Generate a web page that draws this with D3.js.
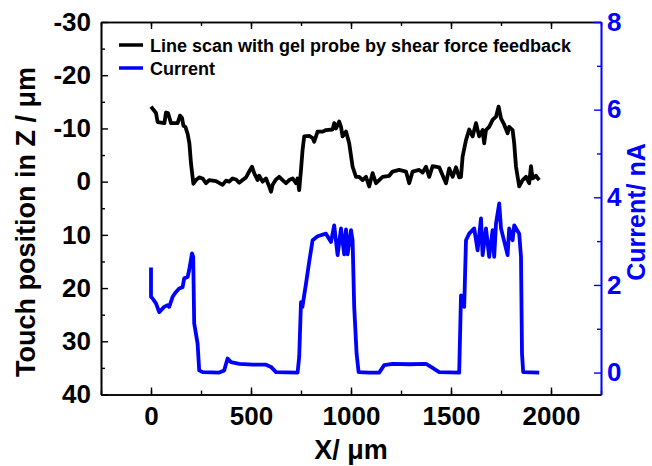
<!DOCTYPE html>
<html>
    <head>
        <meta charset="utf-8" />
        <script src="https://d3js.org/d3.v7.min.js"></script>
        <style>
            body { margin: 0; background: #fff; }
            text { font-family: 'Liberation Sans', Arial, sans-serif; font-weight: bold; }
        </style>
    </head>
    <body>
        <svg width="652" height="466"></svg>
        <script>
            // height profile (left axis, um)
            const zX = [0, 25, 33, 67, 75, 85, 100, 133, 145, 155, 162, 172, 183, 192, 200, 212,
                225, 241, 258, 275, 291, 325, 358, 375, 391, 408, 425, 441, 458, 475, 491, 505,
                516, 533, 541, 558, 575, 591, 600, 608, 625, 641, 658, 675, 691, 708, 725, 733,
                741, 750, 758, 766, 791, 808, 816, 833, 858, 875, 908, 916, 925, 941, 950, 958,
                975, 991, 1008, 1025, 1041, 1058, 1075, 1091, 1108, 1125, 1141, 1158, 1191, 1208,
                1241, 1275, 1291, 1308, 1341, 1358, 1375, 1391, 1408, 1441, 1475, 1491, 1508,
                1525, 1541, 1550, 1558, 1575, 1591, 1608, 1625, 1641, 1658, 1666, 1675, 1691,
                1708, 1725, 1738, 1750, 1766, 1783, 1791, 1808, 1816, 1825, 1841, 1858, 1875,
                1891, 1900, 1908, 1925, 1941]
            const zVal = [-14.1, -12.9, -11.2, -11, -13, -12.9, -11, -11, -12.4, -12, -10.5, -10.3, -9, -7.2, -3.4, 0.4,
                -0.3, -0.8, -0.6, 0.3, -0.3, -0.1, 0.6, -0.2, 0, -0.6, -0.4, 0.2, -0.3, -0.8, -1.9, -2.8,
                -1.6, -0.3, -1.1, 0, -0.6, 0.9, 1.9, 0.6, -0.4, -0.9, -0.3, 0.3, -0.3, -0.6, 0.3, -0.6,
                1.6, -2.2, -6, -8.5, -8.6, -8.2, -7.5, -9.4, -9.4, -9.7, -9.8, -11, -10, -11.3, -10.3, -8.5,
                -9.4, -7.2, -2.8, -0.9, -0.9, -0.3, -0.9, 0.9, -1.6, 0.3, -0.3, -0.9, -1.1, -1.9,
                -2.2, -1.9, 0.3, -1.9, -2.2, -1.7, -2.8, -0.9, -2.9, -2.7, 0.3, -2.5, -0.9,
                -2.7, -0.8, -0.9, -4.7, -7.8, -9.8, -8.5, -11, -8.5, -9.7, -7.2, -9.7, -10.3,
                -11.6, -12.2, -14.1, -11.9, -10.7, -9.1, -10.3, -9.7, -7.2, -2.8, 0.9, -0.3, -0.9,
                0.3, -2.9, -0.6, -1.1, -0.3]

            // probe current (right axis, nA)
            const iX = [0, 0, 8, 25, 41, 66, 83, 91, 108, 125, 141, 158, 166, 183, 191, 205, 211, 216,
                233, 241, 258, 341, 366, 383, 400, 441, 508, 575, 600, 625, 733, 741, 750, 757,
                775, 791, 808, 833, 875, 900, 916, 933, 950, 966, 975, 983, 1000, 1008, 1016,
                1028, 1038, 1091, 1141, 1166, 1208, 1291, 1375, 1400, 1441, 1541, 1550, 1566,
                1575, 1591, 1616, 1633, 1650, 1658, 1675, 1691, 1708, 1716, 1725, 1741, 1750,
                1783, 1791, 1808, 1816, 1841, 1850, 1855, 1861, 1941]
            const iVal = [2.4, 1.73, 1.69, 1.58, 1.38, 1.5, 1.54, 1.5, 1.73, 1.84, 1.92, 1.95, 2.15, 2.18, 2.34, 2.72, 2.64, 1.12,
                0.66, 0.05, 0.01, 0, 0.05, 0.32, 0.24, 0.2, 0.18, 0.18, 0.13, 0.01, 0, 0.36, 1.61, 1.5,
                2.03, 2.53, 3.02, 3.11, 3.17, 2.98, 3.36, 2.68, 3.29, 2.7, 3.27, 2.7, 3.25, 3.02, 1.5,
                0.43, 0.01, 0, 0, 0.17, 0.2, 0.19, 0.2, 0.13, 0.01, 0, 1.76, 1.5,
                3.02, 3.17, 3.29, 2.79, 3.52, 2.68, 3.29, 2.64, 3.25, 2.64, 3.4, 3.86, 3.29,
                2.68, 3.29, 3.02, 3.36, 3.17, 2.64, 0.43, 0.01, 0]

            const xTicks = [0, 500, 1000, 1500, 2000]
            const zTicks = [-30, -20, -10, 0, 10, 20, 30, 40]
            const iTicks = [0, 2, 4, 6, 8]
            const legendLabels = ['Line scan with gel probe by shear force feedback', 'Current']

            const svg = d3.select('svg')
            const pLeft = 101, pRight = 601, pTop = 22, pBottom = 394.5
            const blue = '#0000ff'
            const plain = (d) => String(d)

            const x = d3.scaleLinear().domain([-250, 2250]).range([pLeft, pRight])
            const yZ = d3.scaleLinear().domain([-30, 40]).range([pTop, pBottom])
            const yI = d3.scaleLinear().domain([-0.5, 8]).range([pBottom, pTop])

            function styleAxis(g, color) {
                g.select('.domain').attr('stroke', color).attr('stroke-width', 1.6)
                g.selectAll('.tick line').attr('stroke', color).attr('stroke-width', 1.4)
                g.selectAll('.tick text').attr('fill', color).style('font-size', '26px')
                    .style('font-family', "'Liberation Sans', Arial, sans-serif").style('font-weight', 'bold')
            }

            // minor ticks
            svg.append('g').attr('transform', `translate(0,${pBottom})`)
                .call(d3.axisBottom(x).tickValues(d3.range(-250, 2251, 250)).tickSizeInner(-4).tickSizeOuter(0).tickFormat(''))
                .call(styleAxis, '#000')
            svg.append('g').attr('transform', `translate(0,${pTop})`)
                .call(d3.axisTop(x).tickValues(d3.range(-250, 2251, 250)).tickSizeInner(-4).tickSizeOuter(0).tickFormat(''))
                .call(styleAxis, '#000')
            svg.append('g').attr('transform', `translate(${pLeft},0)`)
                .call(d3.axisLeft(yZ).tickValues(d3.range(-25, 40, 10)).tickSizeInner(-4).tickSizeOuter(0).tickFormat(''))
                .call(styleAxis, '#000')
            svg.append('g').attr('transform', `translate(${pRight},0)`)
                .call(d3.axisRight(yI).tickValues(d3.range(1, 8, 2)).tickSizeInner(-4).tickSizeOuter(0).tickFormat(''))
                .call(styleAxis, blue)

            // major ticks
            svg.append('g').attr('transform', `translate(0,${pBottom})`)
                .call(d3.axisBottom(x).tickValues(xTicks).tickFormat(plain).tickSizeInner(-7).tickSizeOuter(0).tickPadding(12))
                .call(styleAxis, '#000')
            svg.append('g').attr('transform', `translate(0,${pTop})`)
                .call(d3.axisTop(x).tickValues(xTicks).tickSizeInner(-7).tickSizeOuter(0).tickFormat(''))
                .call(styleAxis, '#000')
            svg.append('g').attr('transform', `translate(${pLeft},0)`)
                .call(d3.axisLeft(yZ).tickValues(zTicks).tickFormat(plain).tickSizeInner(-7).tickSizeOuter(0).tickPadding(10))
                .call(styleAxis, '#000')
            svg.append('g').attr('transform', `translate(${pRight},0)`)
                .call(d3.axisRight(yI).tickValues(iTicks).tickFormat(plain).tickSizeInner(-7).tickSizeOuter(0).tickPadding(6))
                .call(styleAxis, blue)

            // series
            const zLine = d3.line().x((d) => x(d[0])).y((d) => yZ(d[1]))
            const iLine = d3.line().x((d) => x(d[0])).y((d) => yI(d[1]))
            svg.append('path').datum(d3.zip(zX, zVal)).attr('d', zLine)
                .attr('fill', 'none').attr('stroke', '#000').attr('stroke-width', 3.8).attr('stroke-linejoin', 'round')
            svg.append('path').datum(d3.zip(iX, iVal)).attr('d', iLine)
                .attr('fill', 'none').attr('stroke', blue).attr('stroke-width', 3.8).attr('stroke-linejoin', 'round')

            // axis titles
            svg.append('text').attr('x', (pLeft + pRight) / 2).attr('y', 459)
                .attr('text-anchor', 'middle').style('font-size', '27px').text('X/ μm')
            svg.append('text').attr('transform', 'translate(35,222) rotate(-90)')
                .attr('text-anchor', 'middle').style('font-size', '27px').text('Touch position in Z / μm')
            svg.append('text').attr('transform', 'translate(645,212) rotate(-90)')
                .attr('text-anchor', 'middle').style('font-size', '25px').attr('fill', blue).text('Current/ nA')

            // legend
            const legend = svg.append('g').selectAll('g').data(legendLabels).enter().append('g')
                .attr('transform', (d, i) => `translate(119,${45 + i * 23})`)
            legend.append('line').attr('x1', 0).attr('x2', 24).attr('y1', 0).attr('y2', 0)
                .attr('stroke', (d, i) => (i === 0 ? '#000' : blue)).attr('stroke-width', 3.5)
            legend.append('text').attr('x', 31).attr('y', 6.5).style('font-size', '18px').text((d) => d)
        </script>
    </body>
</html>
